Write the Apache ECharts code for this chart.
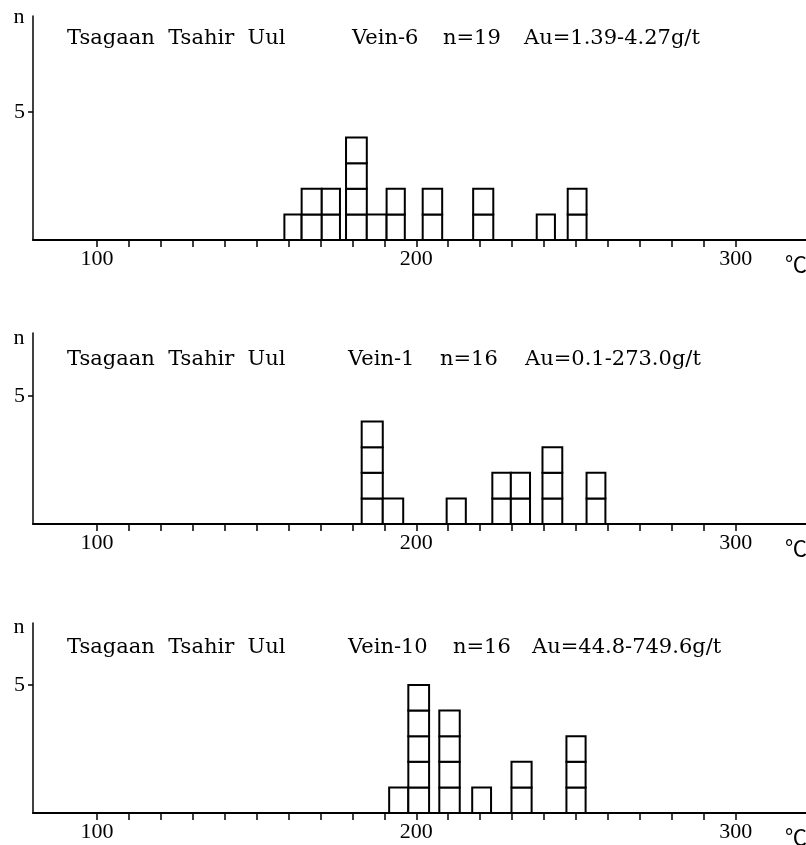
<!DOCTYPE html>
<html>
<head>
<meta charset="utf-8">
<script src="https://cdn.jsdelivr.net/npm/echarts@6/dist/echarts.min.js"></script>
<style>
  html, body { margin: 0; padding: 0; background: #fff; }
  #chart { width: 806px; height: 845px; }
</style>
</head>
<body>
<div id="chart"></div>
<script>
// homogenization temperature histograms, one bar = [from °C, to °C, count]
const vein6Lo = [158.7, 164.1, 170.4, 178.0, 184.5, 190.7, 202.0, 217.8, 237.7, 247.4];
const vein6Hi = [164.1, 170.4, 176.1, 184.5, 190.7, 196.4, 208.1, 224.1, 243.4, 253.3];
const vein6Count = [1, 2, 2, 4, 1, 2, 2, 2, 1, 2];

const vein1Lo = [182.9, 189.5, 209.5, 223.8, 229.6, 239.5, 253.3];
const vein1Hi = [189.5, 195.9, 215.5, 229.6, 235.6, 245.7, 259.2];
const vein1Count = [4, 1, 1, 2, 2, 3, 2];

const vein10Lo = [191.5, 197.5, 207.2, 217.5, 229.8, 247.0];
const vein10Hi = [197.5, 204.0, 213.6, 223.4, 236.1, 253.0];
const vein10Count = [1, 5, 4, 1, 2, 3];

const siteName = 'Tsagaan  Tsahir  Uul';
const veinNames = ['Vein-6', 'Vein-1', 'Vein-10'];
const sampleN = [19, 16, 16];
const auRanges = ['1.39-4.27', '0.1-273.0', '44.8-749.6'];

const xTicks = [100, 110, 120, 130, 140, 150, 160, 170, 180, 190, 200,
  210, 220, 230, 240, 250, 260, 270, 280, 290, 300];
const xLabels = [100, 200, 300];
const yTicks = [5];

const SERIF = "'DejaVu Serif', 'Liberation Serif', serif";
const NUM_FONT = "'Liberation Serif', serif";

// layout of the three panels (pixels)
const panels = [
  { top: 16, height: 224, yMax: 8.75, textY: 38.5, nY: 17, veinX: 352, nX: 443, auX: 524 },
  { top: 333, height: 191, yMax: 7.46, textY: 359.5, nY: 338, veinX: 348, nX: 440, auX: 525 },
  { top: 623, height: 190, yMax: 7.42, textY: 647.5, nY: 627, veinX: 348, nX: 453, auX: 532 }
];

function zipBins(lo, hi, count) {
  return lo.map((v, i) => [v, hi[i], count[i]]);
}
const binSets = [
  zipBins(vein6Lo, vein6Hi, vein6Count),
  zipBins(vein1Lo, vein1Hi, vein1Count),
  zipBins(vein10Lo, vein10Hi, vein10Count)
];

// each bar is drawn as a column of unit squares
function renderStack(params, api) {
  const lo = api.value(0);
  const hi = api.value(1);
  const n = api.value(2);
  const children = [];
  for (let k = 0; k < n; k++) {
    const p0 = api.coord([lo, k + 1]);
    const p1 = api.coord([hi, k]);
    children.push({
      type: 'rect',
      shape: { x: p0[0], y: p0[1], width: p1[0] - p0[0], height: p1[1] - p0[1] },
      style: { fill: '#fff', stroke: '#000', lineWidth: 2 }
    });
  }
  return { type: 'group', children };
}

const grid = panels.map(p => ({ left: 33, width: 773, top: p.top, height: p.height }));

const xAxis = panels.map((p, i) => ({
  type: 'value',
  gridIndex: i,
  min: 80,
  max: 322,
  axisLine: { show: true, onZero: false, lineStyle: { color: '#000', width: 2 } },
  axisTick: { show: true, customValues: xTicks, length: 7, lineStyle: { color: '#000', width: 1.5 } },
  axisLabel: {
    customValues: xLabels, margin: 8, color: '#000',
    fontFamily: NUM_FONT, fontSize: 22
  },
  splitLine: { show: false }
}));

const yAxis = panels.map((p, i) => ({
  type: 'value',
  gridIndex: i,
  min: 0,
  max: p.yMax,
  axisLine: { show: true, lineStyle: { color: '#000', width: 1.5 } },
  axisTick: { show: true, customValues: yTicks, length: 5, lineStyle: { color: '#000', width: 1.5 } },
  axisLabel: {
    customValues: yTicks, margin: 8, color: '#000',
    fontFamily: NUM_FONT, fontSize: 22
  },
  splitLine: { show: false }
}));

const series = binSets.map((bins, i) => ({
  type: 'custom',
  xAxisIndex: i,
  yAxisIndex: i,
  renderItem: renderStack,
  encode: { x: [0, 1], y: 2 },
  silent: true,
  animation: false,
  data: bins
}));

function label(text, x, y, extra) {
  return {
    type: 'text',
    x, y,
    silent: true,
    style: Object.assign({
      text, fill: '#000', fontFamily: SERIF, fontSize: 21,
      align: 'left', verticalAlign: 'middle'
    }, extra || {})
  };
}

const graphic = [];
panels.forEach((p, i) => {
  graphic.push(label(siteName, 67, p.textY));
  graphic.push(label(veinNames[i], p.veinX, p.textY));
  graphic.push(label('n=' + sampleN[i], p.nX, p.textY));
  graphic.push(label('Au=' + auRanges[i] + 'g/t', p.auX, p.textY));
  graphic.push(label('n', 19, p.nY, { align: 'center', fontFamily: NUM_FONT, fontSize: 22 }));
  graphic.push(label('℃', 796, p.top + p.height + 24,
    { align: 'center', fontFamily: "'Noto Sans CJK JP', sans-serif", fontSize: 22 }));
});

const chart = echarts.init(document.getElementById('chart'), null, { renderer: 'canvas' });
chart.setOption({
  animation: false,
  backgroundColor: '#fff',
  grid,
  xAxis,
  yAxis,
  series,
  graphic
});
</script>
</body>
</html>
